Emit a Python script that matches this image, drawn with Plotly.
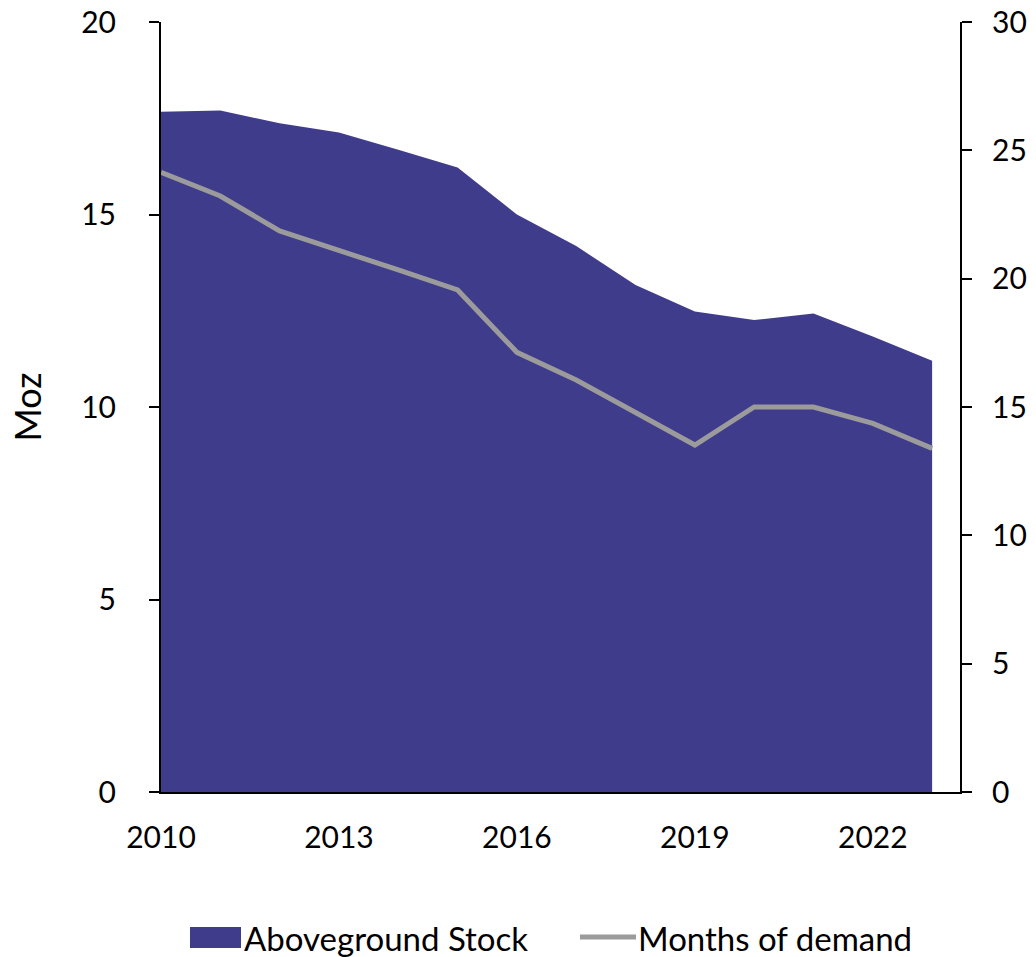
import plotly.graph_objects as go

years = list(range(2010, 2024))
stock_moz = [17.67, 17.70, 17.37, 17.13, 16.68, 16.22, 15.00, 14.18, 13.17, 12.48, 12.26, 12.43, 11.83, 11.20]
months_demand = [24.14, 23.22, 21.86, 21.12, 20.34, 19.56, 17.13, 16.05, 14.77, 13.52, 15.00, 15.00, 14.36, 13.39]
x_ticks = [2010, 2013, 2016, 2019, 2022]
series_names = ["Aboveground Stock", "Months of demand"]

FONT = "Lato, Carlito, Calibri, sans-serif"
AREA_COLOR = "#403C8C"
LINE_COLOR = "#9B9B9B"

W, H = 1036, 957
L, R, T, B = 161, 76, 22, 165
pw, ph = W - L - R, H - T - B


def px(x):
    return (x - L) / pw


def py(y):
    return (H - B - y) / ph


fig = go.Figure()
fig.add_trace(go.Scatter(
    x=years, y=stock_moz, name=series_names[0], mode="lines",
    fill="tozeroy", fillcolor=AREA_COLOR, line=dict(width=0, color=AREA_COLOR),
    showlegend=False,
))
fig.add_trace(go.Scatter(
    x=years, y=months_demand, name=series_names[1], mode="lines",
    line=dict(color=LINE_COLOR, width=5), yaxis="y2", showlegend=False,
))

# Legend drawn manually
fig.add_shape(type="rect", xref="paper", yref="paper",
              x0=px(190), x1=px(241), y0=py(948), y1=py(927),
              fillcolor=AREA_COLOR, line=dict(width=0))
fig.add_shape(type="line", xref="paper", yref="paper",
              x0=px(580), x1=px(636), y0=py(937), y1=py(937),
              line=dict(color=LINE_COLOR, width=5))
fig.add_annotation(text=series_names[0], xref="paper", yref="paper", x=px(242), y=py(938),
                   xanchor="left", yanchor="middle", showarrow=False, font=dict(size=33))
fig.add_annotation(text=series_names[1], xref="paper", yref="paper", x=px(636), y=py(938),
                   xanchor="left", yanchor="middle", showarrow=False, font=dict(size=33))

fig.update_layout(
    width=W, height=H,
    margin=dict(l=L, r=R, t=T, b=B, autoexpand=False),
    plot_bgcolor="white", paper_bgcolor="white",
    font=dict(family=FONT, size=30, color="black"),
    showlegend=False,
    xaxis=dict(range=[2010, 2023.47], tickvals=x_ticks, showgrid=False, zeroline=False,
               showline=True, linecolor="black", linewidth=2, ticks="", ticklabelstandoff=18,
               automargin=False, ticklabeloverflow="allow"),
    yaxis=dict(range=[0, 20], tickvals=[0, 5, 10, 15, 20], showgrid=False, zeroline=False,
               showline=True, linecolor="black", linewidth=2, ticks="outside", ticklen=10,
               tickcolor="black", tickwidth=2, ticklabelstandoff=27, automargin=False,
               ticklabeloverflow="allow",
               title=dict(text="Moz", standoff=29)),
    yaxis2=dict(range=[0, 30], tickvals=[0, 5, 10, 15, 20, 25, 30], overlaying="y", side="right",
                showgrid=False, zeroline=False, showline=True, linecolor="black", linewidth=2,
                ticks="outside", ticklen=10, tickcolor="black", tickwidth=2,
                ticklabelstandoff=14, automargin=False, ticklabeloverflow="allow"),
)

fig.write_html(
    "out.html",
    config={"displayModeBar": False},
    post_script="document.body.style.margin='0';document.body.style.overflow='hidden';",
)
